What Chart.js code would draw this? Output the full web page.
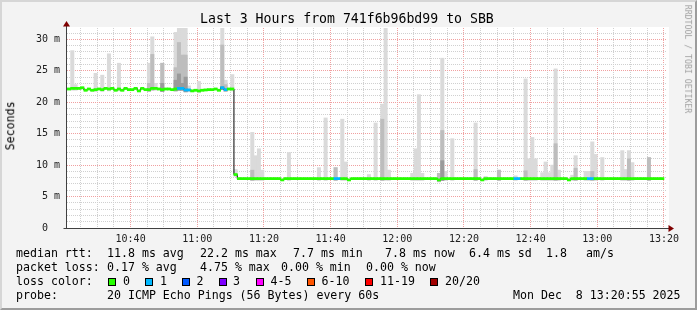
<!DOCTYPE html>
<html>
<head>
<meta charset="utf-8">
<title>Last 3 Hours from 741f6b96bd99 to SBB</title>
<script src="https://cdn.jsdelivr.net/npm/chart.js@4.4.0/dist/chart.umd.min.js"></script>
<style>
    html, body { margin: 0; padding: 0; background: #f3f3f3; }
    #wrap { position: relative; width: 697px; height: 310px; overflow: hidden; font-family: 'DejaVu Sans Mono', monospace; color: #000; }
    #wrap canvas { position: absolute; left: 0; top: 0; }
    .t { position: absolute; white-space: pre; line-height: 1; font-size: 11.6px; }
    .box { position: absolute; width: 6px; height: 6px; border: 1px solid #000; top: 278px; }
    #frame { position: absolute; left: 0; top: 0; width: 697px; height: 310px; box-sizing: border-box;
             border: 2px solid; border-color: #d6d6d6 #9c9c9c #9c9c9c #d6d6d6; pointer-events: none; }
</style>
</head>
<body>
<div id="wrap">
    <canvas id="smokeChart" width="697" height="310"></canvas>

    <div class="t" style="left:200px; top:12px; font-size:13.2px;">Last 3 Hours from 741f6b96bd99 to SBB</div>
    <div class="t" style="left:-14px; top:120px; width:50px; text-align:center; transform:rotate(-90deg);">Seconds</div>
    <div class="t" style="left:633px; top:55px; width:110px; text-align:center; font-size:8.2px; color:#a0a0a0; transform:rotate(90deg);">RRDTOOL / TOBI OETIKER</div>

    <!-- legend rows -->
    <div class="t" style="left:16px; top:247.7px;">median rtt:</div>
    <div class="t" style="left:107px; top:247.7px;">11.8 ms avg</div>
    <div class="t" style="left:200px; top:247.7px;">22.2 ms max</div>
    <div class="t" style="left:293px; top:247.7px;">7.7 ms min</div>
    <div class="t" style="left:385px; top:247.7px;">7.8 ms now</div>
    <div class="t" style="left:469px; top:247.7px;">6.4 ms sd</div>
    <div class="t" style="left:546px; top:247.7px;">1.8</div>
    <div class="t" style="left:586px; top:247.7px;">am/s</div>

    <div class="t" style="left:16px; top:261.7px;">packet loss:</div>
    <div class="t" style="left:107px; top:261.7px;">0.17 % avg</div>
    <div class="t" style="left:200px; top:261.7px;">4.75 % max</div>
    <div class="t" style="left:281px; top:261.7px;">0.00 % min</div>
    <div class="t" style="left:366px; top:261.7px;">0.00 % now</div>

    <div class="t" style="left:16px; top:275.7px;">loss color:</div>
    <div id="lossLegend"></div>

    <div class="t" style="left:16px; top:289.5px;">probe:</div>
    <div class="t" style="left:107px; top:289.5px;">20 ICMP Echo Pings (56 Bytes) every 60s</div>
    <div class="t" style="left:513px; top:289.5px;">Mon Dec  8 13:20:55 2025</div>

    <div id="frame"></div>
</div>

<script>
// время на оси X: минуты после 10:20:55, шаг 1 минута (первый полный шаг с 10:21:00)
const startClock = 10 * 60 + 20 + 55 / 60;
const stepOffset = 5 / 60;

// медиана пинга по шагам, мс
const median = [
    22.1, 22.2, 22.2, 22.2, 22.3, 21.9, 22.1, 21.9, 22.0, 22.1,
    22.0, 22.2, 22.1, 22.2, 21.9, 22.1, 21.9, 22.2, 22.0, 22.0,
    22.2, 21.8, 22.2, 22.0, 22.0, 22.2, 22.2, 22.1, 22.0, 22.1,
    22.1, 22.0, 22.1, 22.2, 22.2, 21.95, 21.95, 21.8, 21.9, 21.8,
    21.9, 21.95, 22.0, 22.0, 22.1, 21.9, 22.3, 22.0, 22.1, 22.1,
    8.5, 7.85, 7.85, 7.85, 7.85, 7.85, 7.85, 7.85, 7.85, 7.85,
    7.85, 7.85, 7.85, 7.85, 7.65, 7.85, 7.85, 7.85, 7.85, 7.85,
    7.85, 7.85, 7.85, 7.85, 7.85, 7.85, 7.85, 7.85, 7.85, 7.85,
    7.85, 7.85, 7.85, 7.85, 7.65, 7.85, 7.85, 7.85, 7.85, 7.85,
    7.85, 7.85, 7.85, 7.85, 7.85, 7.85, 7.85, 7.85, 7.85, 7.85,
    7.85, 7.85, 7.85, 7.85, 7.85, 7.85, 7.85, 7.85, 7.85, 7.85,
    7.85, 7.65, 7.85, 7.85, 7.85, 7.85, 7.85, 7.85, 7.85, 7.85,
    7.85, 7.85, 7.85, 7.85, 7.65, 7.85, 7.85, 7.85, 7.85, 7.85,
    7.85, 7.85, 7.85, 7.85, 7.85, 7.85, 7.85, 7.85, 7.85, 7.85,
    7.85, 7.85, 7.85, 7.85, 7.85, 7.85, 7.85, 7.85, 7.85, 7.85,
    7.65, 7.85, 7.85, 7.85, 7.85, 7.85, 7.85, 7.85, 7.85, 7.85,
    7.85, 7.85, 7.85, 7.85, 7.85, 7.85, 7.85, 7.85, 7.85, 7.85,
    7.85, 7.85, 7.85, 7.85, 7.85, 7.85, 7.85, 7.85, 7.85
];

// шаги с потерями (все остальные = 0)
const lossSteps = [33, 34, 35, 36, 46, 47, 80, 81, 134, 135, 156, 157];
const lossValue = [1, 1, 1, 1, 1, 1, 1, 1, 1, 1, 1, 1];

// "дым": шаги с разбросом пингов
const smokeSteps = [1, 2, 8, 10, 12, 15, 24, 25, 26, 28, 32, 33, 34, 35, 36, 39, 46, 47, 49, 50,
    55, 56, 57, 58, 66, 75, 77, 80, 82, 83, 90, 92, 94, 95, 96, 103, 104, 105, 106, 111,
    112, 113, 115, 122, 125, 129, 134, 137, 138, 139, 140, 142, 143, 144, 145, 146, 147, 151, 152, 155,
    156, 157, 158, 160, 166, 167, 168, 169, 174];
const smokeHi = [28.2, 22.8, 24.6, 24.3, 27.7, 26.2, 26.2, 30.4, 23.0, 26.2, 31.1, 31.8, 31.8, 31.8, 22.6, 23.3, 31.8, 23.5, 24.4, 9.3,
    15.2, 11.5, 12.6, 9.2, 12.0, 9.6, 17.5, 9.6, 17.3, 10.5, 8.5, 16.7, 19.7, 31.8, 9.2, 8.7, 12.6, 21.2, 8.7, 8.7,
    27.0, 9.0, 14.2, 16.7, 8.2, 9.2, 8.3, 23.7, 11.0, 14.4, 11.0, 8.8, 10.5, 8.8, 10.0, 25.3, 9.2, 8.4, 11.5, 9.0,
    9.0, 13.7, 11.7, 11.2, 12.3, 9.3, 12.3, 10.4, 11.2];
const smokeMid = [null, null, null, null, null, null, 23.0, 27.6, null, 26.2, 25.5, 29.5, 27.5, 27.5, null, null, 29.1, 22.8, null, null,
    9.2, null, null, null, null, null, null, 9.6, null, null, null, null, 17.3, null, null, null, null, null, null, 8.7,
    15.5, null, null, 9.3, null, 9.2, null, 9.1, null, null, null, null, null, null, null, 13.4, null, null, 9.5, null,
    null, 9.0, null, null, null, null, 11.0, null, 11.2];
const smokeDark = [null, null, null, null, null, null, null, null, null, 23.0, 23.5, 24.5, 23.0, 24.0, null, null, 22.5, null, null, null,
    null, null, null, null, null, null, null, null, null, null, null, null, null, null, null, null, null, null, null, null,
    10.7, null, null, null, null, null, null, null, null, null, null, null, null, null, null, null, null, null, null, null,
    null, null, null, null, null, null, null, null, null];

const lossColors = ['#26ff00', '#00b8ff', '#0059ff', '#7e00ff', '#ff00ff', '#ff5500', '#ff0000', '#a10000'];
const lossLabels = ['0', '1', '2', '3', '4-5', '6-10', '11-19', '20/20'];

// тики
const yTickValues = [0, 1, 2, 3, 4, 5, 6, 7, 8, 9, 10, 11, 12, 13, 14, 15, 16, 17, 18, 19, 20, 21, 22, 23, 24, 25, 26, 27, 28, 29, 30, 31];
const xTickClock = ['10:25', '10:30', '10:35', '10:40', '10:45', '10:50', '10:55', '11:00', '11:05', '11:10', '11:15', '11:20',
    '11:25', '11:30', '11:35', '11:40', '11:45', '11:50', '11:55', '12:00', '12:05', '12:10', '12:15', '12:20',
    '12:25', '12:30', '12:35', '12:40', '12:45', '12:50', '12:55', '13:00', '13:05', '13:10', '13:15', '13:20'];

document.addEventListener('DOMContentLoaded', () => {
    buildLossLegend();
    initChart();
});

// Легенда цветов потерь
function buildLossLegend() {
    const holder = document.getElementById('lossLegend');
    const boxX = [108, 145, 182, 219, 256, 307, 365, 430];
    const labelX = [123, 160, 196.5, 233, 270.5, 321.5, 380, 445];
    lossLabels.forEach((label, i) => {
        const box = document.createElement('div');
        box.className = 'box';
        box.style.left = boxX[i] + 'px';
        box.style.background = lossColors[i];
        holder.appendChild(box);
        const txt = document.createElement('div');
        txt.className = 't';
        txt.style.left = labelX[i] + 'px';
        txt.style.top = '275.7px';
        txt.textContent = label;
        holder.appendChild(txt);
    });
}

function clockToX(str) {
    const [h, m] = str.split(':').map(Number);
    return h * 60 + m - startClock;
}

function xToClock(v) {
    const total = Math.round(startClock + v);
    const h = Math.floor(total / 60);
    const m = total % 60;
    return { h, m, text: h + ':' + String(m).padStart(2, '0') };
}

const stepX = i => stepOffset + i + 0.5;

// фон области графика и стрелки осей
const plotDecor = {
    id: 'plotDecor',
    beforeDraw(chart) {
        const { ctx, chartArea: a } = chart;
        ctx.save();
        ctx.fillStyle = '#ffffff';
        ctx.fillRect(a.left, a.top - 1, a.right - a.left + 2, a.bottom - a.top + 1);
        ctx.restore();
    },
    afterDraw(chart) {
        const { ctx, chartArea: a } = chart;
        const x0 = Math.round(a.left) - 0.5;
        const y0 = Math.round(a.bottom) + 0.5;
        ctx.save();
        ctx.strokeStyle = '#404040';
        ctx.lineWidth = 1;
        ctx.beginPath();
        ctx.moveTo(x0, y0);
        ctx.lineTo(x0, a.top - 3);
        ctx.moveTo(x0 - 3, y0);
        ctx.lineTo(a.right + 3, y0);
        ctx.stroke();
        ctx.fillStyle = '#7f0000';
        ctx.beginPath();
        ctx.moveTo(x0, a.top - 7);
        ctx.lineTo(x0 - 3.5, a.top - 1.5);
        ctx.lineTo(x0 + 3.5, a.top - 1.5);
        ctx.closePath();
        ctx.fill();
        ctx.beginPath();
        ctx.moveTo(a.right + 7, y0);
        ctx.lineTo(a.right + 1.5, y0 - 3.5);
        ctx.lineTo(a.right + 1.5, y0 + 3.5);
        ctx.closePath();
        ctx.fill();
        ctx.restore();
    }
};

function initChart() {
    const ctx = document.getElementById('smokeChart').getContext('2d');

    const lossAt = median.map(() => 0);
    lossSteps.forEach((s, k) => { lossAt[s] = lossValue[k]; });

    const band = median.map((m, i) => ({ x: stepX(i), y: [m - 0.17, m + 0.17] }));
    const bandColors = median.map((m, i) => lossColors[lossAt[i]]);

    const smokeLayer = (tops) => smokeSteps
        .map((s, k) => tops[k] == null ? null : { x: stepX(s), y: [median[s] - 0.3, tops[k]] })
        .filter(p => p !== null);

    const barCommon = { grouped: false, categoryPercentage: 1.0, barPercentage: 1.0, borderWidth: 0 };

    new Chart(ctx, {
        type: 'bar',
        data: {
            datasets: [
                { ...barCommon, label: 'median', data: band, backgroundColor: bandColors, order: 0 },
                {
                    type: 'line', label: 'median line', order: 1,
                    data: median.map((m, i) => ({ x: stepX(i), y: m })),
                    stepped: 'middle', borderColor: '#000000', borderWidth: 1, pointRadius: 0
                },
                { ...barCommon, label: 'dark', data: smokeLayer(smokeDark), backgroundColor: '#9a9a9a', order: 2 },
                { ...barCommon, label: 'mid', data: smokeLayer(smokeMid), backgroundColor: '#bdbdbd', order: 3 },
                { ...barCommon, label: 'light', data: smokeLayer(smokeHi), backgroundColor: '#dadada', order: 4 }
            ]
        },
        options: {
            responsive: false,
            animation: false,
            devicePixelRatio: 1,
            layout: { padding: { left: 0, right: 30, top: 28, bottom: 62 } },
            plugins: { legend: { display: false }, tooltip: { enabled: false }, title: { display: false } },
            scales: {
                x: {
                    type: 'linear',
                    min: 0,
                    max: 180,
                    offset: false,
                    afterBuildTicks: scale => { scale.ticks = xTickClock.map(c => ({ value: clockToX(c) })); },
                    afterFit: scale => { scale.height = 20; },
                    grid: {
                        offset: false,
                        drawTicks: false,
                        color: c => (!c.tick ? 'rgba(0,0,0,0)' : (xToClock(c.tick.value).m % 20 === 0 ? '#f0a0a0' : '#d0d0d0')),
                        lineWidth: 1
                    },
                    border: { display: false, dash: [1, 1] },
                    ticks: {
                        autoSkip: false, maxRotation: 0, minRotation: 0, padding: 5,
                        color: '#202020',
                        font: { family: 'DejaVu Sans Mono', size: 10 },
                        callback: v => {
                            const c = xToClock(v);
                            return c.m % 20 === 0 ? c.text : '';
                        }
                    }
                },
                y: {
                    type: 'linear',
                    min: 0,
                    max: 31.8,
                    afterBuildTicks: scale => { scale.ticks = yTickValues.map(v => ({ value: v })); },
                    afterFit: scale => { scale.width = 67; },
                    grid: {
                        drawTicks: false,
                        color: c => (!c.tick || c.tick.value === 0 ? 'rgba(0,0,0,0)' : (c.tick.value % 5 === 0 ? '#f0a0a0' : '#d0d0d0')),
                        lineWidth: 1
                    },
                    border: { display: false, dash: [1, 1] },
                    ticks: {
                        autoSkip: false, padding: 7,
                        color: '#202020',
                        font: { family: 'DejaVu Sans Mono', size: 10 },
                        callback: v => (v % 5 !== 0 ? '' : (v === 0 ? '0  ' : v + ' m'))
                    }
                }
            }
        },
        plugins: [plotDecor]
    });
}
</script>
</body>
</html>
